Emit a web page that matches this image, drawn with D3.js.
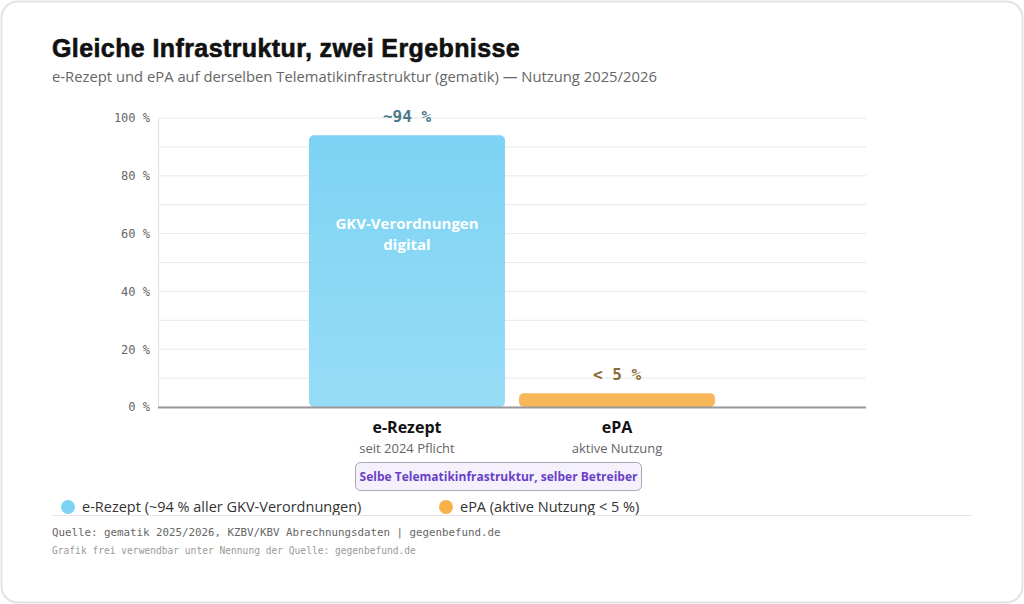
<!DOCTYPE html>
<html lang="de">
<head>
<meta charset="utf-8">
<script src="https://cdn.jsdelivr.net/npm/d3@7"></script>
<style>
  html, body { margin: 0; padding: 0; background: #ffffff; }
  #chart-area { width: 1024px; height: 604px; }
  text { font-family: "Open Sans", "Noto Sans", sans-serif; }
  .mono { font-family: "DejaVu Sans Mono", monospace; }
  .y-axis text { font-family: "DejaVu Sans Mono", monospace; font-size: 12px; fill: #666; }
</style>
</head>
<body>
<div id="chart-area"></div>
<script>
// Chart data
let categories = ["e-Rezept", "ePA"];
let values = [94, 4.8];
let valueLabels = ["~94 %", "< 5 %"];
let subLabels = ["seit 2024 Pflicht", "aktive Nutzung"];
let legendLabels = ["e-Rezept (~94 % aller GKV-Verordnungen)", "ePA (aktive Nutzung < 5 %)"];
let yTicks = [0, 20, 40, 60, 80, 100];
let gridTicks = [0, 10, 20, 30, 40, 50, 60, 70, 80, 90, 100];

let colors = ["#80d4f5", "#f7b65a"];
let labelColors = ["#4a7a8a", "#8a6a3a"];

let W = 1024, H = 604;

let svg = d3.select("#chart-area").append("svg")
    .attr("width", W)
    .attr("height", H);

// Card background
svg.append("rect")
    .attr("x", 1.5).attr("y", 1.5)
    .attr("width", W - 3).attr("height", H - 3)
    .attr("rx", 16)
    .attr("fill", "#fff")
    .attr("stroke", "#e3e3e3")
    .attr("stroke-width", 2);

// Title + subtitle
svg.append("text")
    .attr("x", 52).attr("y", 57)
    .style("font-family", "'Liberation Sans', Arial, sans-serif")
    .style("font-size", "25px")
    .style("font-weight", "bold")
    .style("letter-spacing", "0.4px")
    .attr("fill", "#111")
    .attr("stroke", "#111")
    .attr("stroke-width", 0.6)
    .text("Gleiche Infrastruktur, zwei Ergebnisse");

svg.append("text")
    .attr("x", 52).attr("y", 82)
    .style("font-size", "14.8px")
    .attr("fill", "#666")
    .text("e-Rezept und ePA auf derselben Telematikinfrastruktur (gematik) — Nutzung 2025/2026");

// Plot area
let x0 = 158, x1 = 866, yTop = 118, yBottom = 407;

let x = d3.scaleBand()
    .domain(categories)
    .range([x0, x1])
    .paddingInner(0.067)
    .paddingOuter(0.719);

let y = d3.scaleLinear()
    .domain([0, 100])
    .range([yBottom, yTop]);

// Gridlines
svg.append("g")
    .selectAll("line")
    .data(gridTicks)
    .enter().append("line")
    .attr("x1", x0).attr("x2", x1)
    .attr("y1", d => y(d)).attr("y2", d => y(d))
    .attr("stroke", "#e8e8e8")
    .attr("stroke-width", 1);

// Y axis
let yAxis = d3.axisLeft(y)
    .tickValues(yTicks)
    .tickSize(0)
    .tickPadding(8)
    .tickFormat(d => d + " %");

svg.append("g")
    .attr("class", "y-axis")
    .attr("transform", "translate(" + x0 + ",0)")
    .call(yAxis)
    .call(g => g.select(".domain").attr("stroke", "#e0e0e0").attr("stroke-width", 1));

// Gradients for bars
let defs = svg.append("defs");
let gradStops = [["#7dd3f4", "#96dcf6"], ["#f7b65a", "#f7b65a"]];
categories.forEach((c, i) => {
    let grad = defs.append("linearGradient")
        .attr("id", "grad" + i)
        .attr("x1", 0).attr("y1", 0).attr("x2", 0).attr("y2", 1);
    grad.append("stop").attr("offset", "0%").attr("stop-color", gradStops[i][0]);
    grad.append("stop").attr("offset", "100%").attr("stop-color", gradStops[i][1]);
});

// Bars
svg.append("g")
    .selectAll("rect")
    .data(categories)
    .enter().append("rect")
    .attr("x", d => x(d))
    .attr("y", (d, i) => y(values[i]))
    .attr("width", x.bandwidth())
    .attr("height", (d, i) => yBottom - y(values[i]))
    .attr("rx", 5)
    .attr("fill", (d, i) => "url(#grad" + i + ")");

// Baseline
svg.append("line")
    .attr("x1", x0).attr("x2", x1)
    .attr("y1", yBottom + 0.5).attr("y2", yBottom + 0.5)
    .attr("stroke", "#999")
    .attr("stroke-width", 2);

// Value labels
svg.append("g")
    .selectAll("text")
    .data(categories)
    .enter().append("text")
    .attr("class", "mono")
    .attr("x", d => x(d) + x.bandwidth() / 2)
    .attr("y", (d, i) => y(values[i]) - 13)
    .attr("text-anchor", "middle")
    .style("font-size", "16px")
    .style("font-weight", "bold")
    .attr("fill", (d, i) => labelColors[i])
    .text((d, i) => valueLabels[i]);

// Text inside big bar
let inner = svg.append("text")
    .attr("x", x(categories[0]) + x.bandwidth() / 2)
    .attr("text-anchor", "middle")
    .style("font-size", "15px")
    .style("font-weight", "bold")
    .attr("fill", "#fff");
inner.append("tspan").attr("x", x(categories[0]) + x.bandwidth() / 2).attr("y", 229).text("GKV-Verordnungen");
inner.append("tspan").attr("x", x(categories[0]) + x.bandwidth() / 2).attr("y", 250).text("digital");

// Category labels
categories.forEach((c, i) => {
    let cx = x(c) + x.bandwidth() / 2;
    svg.append("text")
        .attr("x", cx).attr("y", 433)
        .attr("text-anchor", "middle")
        .style("font-size", "16px")
        .style("font-weight", "bold")
        .attr("fill", "#111")
        .text(c);
    svg.append("text")
        .attr("x", cx).attr("y", 453)
        .attr("text-anchor", "middle")
        .style("font-size", "13px")
        .attr("fill", "#666")
        .text(subLabels[i]);
});

// Shared infrastructure box
svg.append("rect")
    .attr("x", 355.5).attr("y", 462.5)
    .attr("width", 286).attr("height", 28)
    .attr("rx", 5)
    .attr("fill", "#f4f1fc")
    .attr("stroke", "#aaa6b8")
    .attr("stroke-width", 1);

svg.append("text")
    .attr("x", 498.5).attr("y", 481)
    .attr("text-anchor", "middle")
    .style("font-size", "12px")
    .style("font-weight", "bold")
    .attr("fill", "#6a3fc8")
    .text("Selbe Telematikinfrastruktur, selber Betreiber");

// Legend
let legendX = [68, 446];
let legendColors = ["#7dd3f4", "#f7b04a"];
legendLabels.forEach((l, i) => {
    svg.append("circle")
        .attr("cx", legendX[i]).attr("cy", 507)
        .attr("r", 7)
        .attr("fill", legendColors[i]);
    svg.append("text")
        .attr("x", legendX[i] + 14).attr("y", 512)
        .style("font-size", "14.5px")
        .attr("fill", "#333")
        .text(l);
});

// Separator
svg.append("line")
    .attr("x1", 52).attr("x2", 972)
    .attr("y1", 515.5).attr("y2", 515.5)
    .attr("stroke", "#e6e6e6")
    .attr("stroke-width", 1);

// Source notes
svg.append("text")
    .attr("class", "mono")
    .attr("x", 52).attr("y", 536)
    .style("font-size", "10.8px")
    .attr("fill", "#666")
    .text("Quelle: gematik 2025/2026, KZBV/KBV Abrechnungsdaten | gegenbefund.de");

svg.append("text")
    .attr("class", "mono")
    .attr("x", 52).attr("y", 554)
    .style("font-size", "9.6px")
    .attr("fill", "#999")
    .text("Grafik frei verwendbar unter Nennung der Quelle: gegenbefund.de");
</script>
</body>
</html>
